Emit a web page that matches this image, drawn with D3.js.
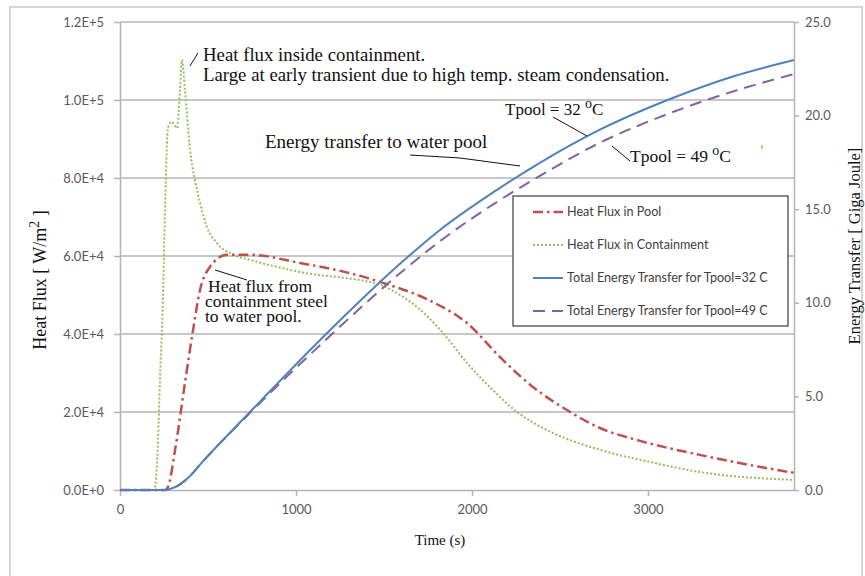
<!DOCTYPE html>
<html>
<head>
<meta charset="utf-8">
<script src="https://cdn.jsdelivr.net/npm/d3@7/dist/d3.min.js"></script>
<style>
  body { margin: 0; background: #fff; }
  svg { display: block; }
  .tick text { font-family: Lato, "Open Sans", sans-serif; font-size: 13px; fill: #595959; }
  .serif { font-family: "Liberation Serif", "DejaVu Serif", serif; fill: #111; }
</style>
</head>
<body>
<div id="chart"></div>
<script>
// frame and plot area
const FRAME_WIDTH = 865;
const FRAME_HEIGHT = 576;
const MARGINS = {left: 120, right: 71, top: 22, bottom: 86};
const VIS_WIDTH = FRAME_WIDTH - MARGINS.left - MARGINS.right;
const VIS_HEIGHT = FRAME_HEIGHT - MARGINS.top - MARGINS.bottom;

// axis ticks
const TIME_TICKS = [0, 1000, 2000, 3000];
const FLUX_TICKS = [0, 20000, 40000, 60000, 80000, 100000, 120000];
const ENERGY_TICKS = [0, 5, 10, 15, 20, 25];

// heat flux in containment (W/m2)
const time_cont = [0, 182, 199, 216, 227, 244, 256, 273, 295, 324, 341, 352, 369, 398, 426, 455, 494, 551, 642, 739,
                   1023, 1477, 1591, 1688, 1835, 1972, 2119, 2256, 2403, 2727, 3011, 3295, 3830];
const flux_cont = [0, 0, 800, 12800, 28200, 48700, 72600, 93000, 94400, 92800, 102600, 110300, 102600, 87200, 79500, 73600, 67400, 63300, 60300, 59000,
                   55900, 52600, 50000, 46900, 40300, 32600, 25600, 20000, 15900, 10300, 7200, 4600, 2600];

// heat flux in pool (W/m2)
const time_pool = [0, 256, 273, 313, 369, 415, 455, 511, 608, 739, 1023, 1307, 1494, 1778, 1972, 2159, 2347, 2540, 2727, 2955, 3295, 3580, 3830];
const flux_pool = [0, 0, 800, 10300, 27400, 41000, 51300, 57200, 60300, 60300, 58200, 55600, 53100, 48200, 42800, 34100, 26400, 20500, 15900, 12600, 9000, 6400, 4400];

// total energy transfer (GJ)
const time_energy = [0, 256, 284, 341, 398, 455, 739, 1193, 1591, 1818, 2159, 2386, 2727, 3108, 3483, 3830];
const energy_32 = [0, 0, 0.05, 0.3, 0.75, 1.36, 4.17, 8.53, 12.08, 13.89, 16.14, 17.48, 19.25, 20.82, 22.09, 22.97];
const energy_49 = [0, 0, 0.05, 0.3, 0.75, 1.36, 4.12, 8.23, 11.58, 13.29, 15.49, 16.78, 18.55, 20.07, 21.29, 22.22];

const LEGEND_NAMES = ["Heat Flux in Pool", "Heat Flux in Containment",
                      "Total Energy Transfer for Tpool=32 C", "Total Energy Transfer for Tpool=49 C"];

function build_chart() {
  const FRAME = d3.select("#chart")
    .append("svg")
    .attr("width", FRAME_WIDTH)
    .attr("height", FRAME_HEIGHT);

  // outer chart border
  FRAME.append("rect")
    .attr("x", 10).attr("y", 7)
    .attr("width", 852).attr("height", 620)
    .attr("fill", "none")
    .attr("stroke", "#c8c8c8")
    .attr("stroke-width", 1.5);

  // scales
  const xScale = d3.scaleLinear().domain([0, 3830]).range([0, VIS_WIDTH]);
  const yFlux = d3.scaleLinear().domain([0, 120000]).range([VIS_HEIGHT, 0]);
  const yEnergy = d3.scaleLinear().domain([0, 25]).range([VIS_HEIGHT, 0]);

  const vis = FRAME.append("g")
    .attr("transform", "translate(" + MARGINS.left + "," + MARGINS.top + ")");

  // horizontal gridlines
  vis.selectAll(".grid")
    .data(FLUX_TICKS.slice(1))
    .enter()
    .append("line")
      .attr("x1", 0).attr("x2", VIS_WIDTH)
      .attr("y1", (d) => yFlux(d)).attr("y2", (d) => yFlux(d))
      .attr("stroke", "#b4b4b4")
      .attr("stroke-width", 1.5);

  // axes
  const fluxFmt = (d) => {
    if (d === 0) return "0.0E+0";
    const e = Math.floor(Math.log10(d));
    return (d / Math.pow(10, e)).toFixed(1) + "E+" + e;
  };

  const xAxis = vis.append("g")
    .attr("transform", "translate(0," + VIS_HEIGHT + ")")
    .call(d3.axisBottom(xScale).tickValues(TIME_TICKS).tickFormat(d3.format("d"))
      .tickSize(6).tickSizeOuter(0).tickPadding(9));

  const yAxisL = vis.append("g")
    .call(d3.axisLeft(yFlux).tickValues(FLUX_TICKS).tickFormat(fluxFmt).tickSize(6).tickSizeOuter(0).tickPadding(10));

  const yAxisR = vis.append("g")
    .attr("transform", "translate(" + VIS_WIDTH + ",0)")
    .call(d3.axisRight(yEnergy).tickValues(ENERGY_TICKS).tickFormat(d3.format(".1f")).tickSize(5).tickSizeOuter(0).tickPadding(6));

  [xAxis, yAxisL, yAxisR].forEach((a) => {
    a.selectAll("path, line").attr("stroke", "#b4b4b4").attr("stroke-width", 1.5);
  });

  // lines
  const fluxLine = (times) => d3.line()
    .x((d, i) => xScale(times[i]))
    .y((d) => yFlux(d))
    .curve(d3.curveMonotoneX);
  const energyLine = d3.line()
    .x((d, i) => xScale(time_energy[i]))
    .y((d) => yEnergy(d))
    .curve(d3.curveMonotoneX);

  const STYLES = [
    {color: "#c0504d", dash: "10,4,2.5,4", width: 2.5},
    {color: "#9bbb59", dash: "2,2", width: 2},
    {color: "#4f81bd", dash: null, width: 2},
    {color: "#8064a2", dash: "12,7", width: 2}
  ];

  const series = [
    fluxLine(time_pool)(flux_pool),
    fluxLine(time_cont)(flux_cont),
    energyLine(energy_32),
    energyLine(energy_49)
  ];

  // draw order: containment, pool, 49, 32
  [1, 0, 3, 2].forEach((k) => {
    vis.append("path")
      .attr("d", series[k])
      .attr("fill", "none")
      .attr("stroke", STYLES[k].color)
      .attr("stroke-width", STYLES[k].width)
      .attr("stroke-dasharray", STYLES[k].dash);
  });

  // legend
  const LEG = FRAME.append("g");
  LEG.append("rect")
    .attr("x", 513).attr("y", 196)
    .attr("width", 275).attr("height", 130)
    .attr("fill", "#fff")
    .attr("stroke", "#4a4a4a")
    .attr("stroke-width", 1.3);
  LEGEND_NAMES.forEach((name, i) => {
    const y = 212 + i * 33;
    LEG.append("line")
      .attr("x1", 533).attr("x2", 563)
      .attr("y1", y).attr("y2", y)
      .attr("stroke", STYLES[i].color)
      .attr("stroke-width", STYLES[i].width)
      .attr("stroke-dasharray", STYLES[i].dash);
    LEG.append("text")
      .attr("x", 567).attr("y", y + 4)
      .attr("font-family", "Lato, 'Open Sans', sans-serif")
      .attr("font-size", 12.6)
      .attr("fill", "#404040")
      .text(name);
  });

  // axis titles
  FRAME.append("text")
    .attr("class", "serif")
    .attr("x", 440).attr("y", 545)
    .attr("text-anchor", "middle")
    .attr("font-size", 15)
    .text("Time (s)");

  const yTitle = FRAME.append("text")
    .attr("class", "serif")
    .attr("transform", "translate(46,280) rotate(-90)")
    .attr("text-anchor", "middle")
    .attr("font-size", 18);
  yTitle.append("tspan").text("Heat Flux [ W/m");
  yTitle.append("tspan").attr("dy", -7).attr("font-size", 14).text("2");
  yTitle.append("tspan").attr("dy", 7).text(" ]");

  FRAME.append("text")
    .attr("class", "serif")
    .attr("transform", "translate(860,246) rotate(-90)")
    .attr("text-anchor", "middle")
    .attr("font-size", 16.5)
    .text("Energy Transfer [ Giga Joule]");

  // annotations
  const ann = FRAME.append("g").attr("class", "serif");
  ann.append("text").attr("x", 203).attr("y", 61).attr("font-size", 18.8).text("Heat flux inside containment.");
  ann.append("text").attr("x", 203).attr("y", 81).attr("font-size", 18.8).text("Large at early transient due to high temp. steam condensation.");
  ann.append("text").attr("x", 265).attr("y", 148).attr("font-size", 19).text("Energy transfer to water pool");
  ann.append("text").attr("x", 208).attr("y", 292).attr("font-size", 17.5).text("Heat flux from");
  ann.append("text").attr("x", 205).attr("y", 307).attr("font-size", 17.5).text("containment steel");
  ann.append("text").attr("x", 205).attr("y", 322).attr("font-size", 17.5).text("to water pool.");

  const t32 = ann.append("text").attr("x", 505).attr("y", 115).attr("font-size", 17);
  t32.append("tspan").text("Tpool = 32 ");
  t32.append("tspan").attr("dy", -7).attr("font-size", 14).text("o");
  t32.append("tspan").attr("dy", 7).text("C");

  const t49 = ann.append("text").attr("x", 630).attr("y", 162).attr("font-size", 17.5);
  t49.append("tspan").text("Tpool = 49 ");
  t49.append("tspan").attr("dy", -7).attr("font-size", 14).text("o");
  t49.append("tspan").attr("dy", 7).text("C");

  // leader lines
  const leaders = [
    [[190, 66], [198, 53]],
    [[410, 155], [460, 158], [520, 166]],
    [[553, 117], [587, 136]],
    [[612, 146], [630, 161]],
    [[215, 270], [247, 280]]
  ];
  leaders.forEach((pts) => {
    FRAME.append("path")
      .attr("d", d3.line()(pts))
      .attr("fill", "none")
      .attr("stroke", "#111")
      .attr("stroke-width", 1);
  });

  // small stray mark
  FRAME.append("line")
    .attr("x1", 762).attr("x2", 762).attr("y1", 145).attr("y2", 149)
    .attr("stroke", "#f0a030").attr("stroke-width", 1.5);
}

build_chart();
</script>
</body>
</html>
